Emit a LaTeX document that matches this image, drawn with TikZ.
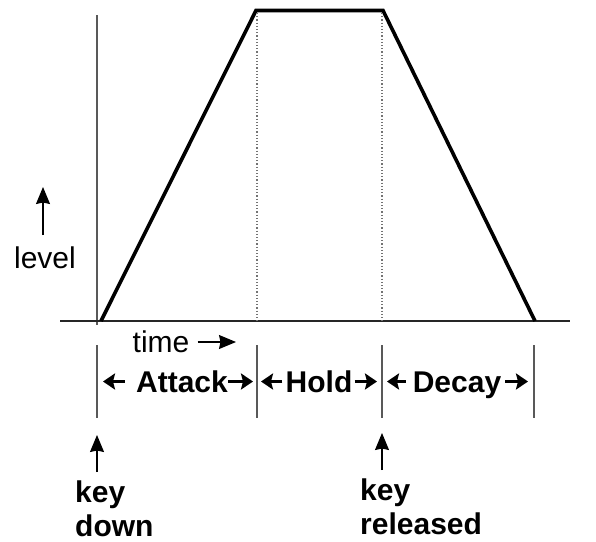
\documentclass[tikz,border=0pt]{standalone}
\usepackage{fontspec}
\setmainfont{Liberation Sans}
\usetikzlibrary{arrows.meta, positioning}

\begin{document}
\begin{tikzpicture}[
        x=1pt, y=-1pt,
        axis/.style={draw=black!65, line width=1.3pt},
        envelope/.style={draw=black, line width=3.6pt, line join=miter},
        guide/.style={draw=black!55, dotted, line width=1.2pt},
        lbl/.style={font=\fontsize{30}{34}\selectfont, inner sep=0pt, anchor=base},
        phase/.style={font=\bfseries\fontsize{30}{34}\selectfont, inner sep=0pt, anchor=base, text height=21pt, text depth=0pt},
        keylbl/.style={font=\bfseries\fontsize{30}{34}\selectfont, inner sep=0pt, anchor=base west, align=left},
        tip/.style={-{Stealth[length=17pt, width=14pt, inset=1.5pt]}, line width=1.3pt},
        ptr/.style={-{Stealth[length=12pt, width=16pt, inset=2pt]}, line width=3pt}
    ]
        \useasboundingbox (0,0) rectangle (596,541);

        % axes
        \coordinate (ytop) at (97,15);
        \coordinate (ybot) at (97,325);
        \coordinate (xl) at (60,321);
        \coordinate (xr) at (570,321);
        \draw[axis] (ytop) -- (ybot);
        \draw[axis, draw=black!85] (xl) -- (xr);

        % envelope
        \coordinate (k0) at (101,321);
        \coordinate (p1) at (256,10.5);
        \coordinate (p2) at (383,10.5);
        \coordinate (k3) at (535,321);
        \draw[envelope] (k0) -- (p1) -- (p2) -- (k3);
        \draw[guide] (257,13) -- (257,321);
        \draw[guide] (382,13) -- (382,321);

        % phase ticks
        \foreach \x/\n in {97/0, 257/1, 382/2, 534/3} {
            \draw[axis] (\x,345) -- (\x,418);
            \coordinate (m\n) at (\x,381.5);
        }

        % labels
        \node[lbl] (level) at (45,268) {level};
        \coordinate (lvtail) at (43,235);
        \coordinate (lvhead) at (43,187);
        \draw[tip] (lvtail) -- (lvhead);

        \node[lbl] (time) at (161,352) {time};
        \coordinate (tmhead) at (236,342);
        \draw[tip] ([xshift=8pt,yshift=10pt]time.base east) -- (tmhead);

        \node[phase] (attack) at (182,392) {Attack};
        \node[phase] (hold) at (319,392) {Hold};
        \node[phase] (decay) at (457,392) {Decay};

        \draw[ptr] ([xshift=-11pt]attack.west) -- ([xshift=6pt]m0);
        \draw[ptr] (attack.east) -- ([xshift=-4pt]m1);
        \draw[ptr] ([xshift=-3pt]hold.west) -- ([xshift=4pt]m1);
        \draw[ptr] ([xshift=2pt]hold.east) -- ([xshift=-5pt]m2);
        \draw[ptr] ([xshift=-7pt]decay.west) -- ([xshift=5pt]m2);
        \draw[ptr] ([xshift=4pt]decay.east) -- ([xshift=-6pt]m3);

        % key events
        \node[keylbl] (down) at (75,536) {key\\down};
        \node[keylbl] (released) at (360,534) {key\\released};
        \coordinate (dnhead) at (97,435);
        \coordinate (rlhead) at (382,433);
        \draw[tip] (97,472) -- (dnhead);
        \draw[tip] (382,470) -- (rlhead);
    \end{tikzpicture}
\end{document}
